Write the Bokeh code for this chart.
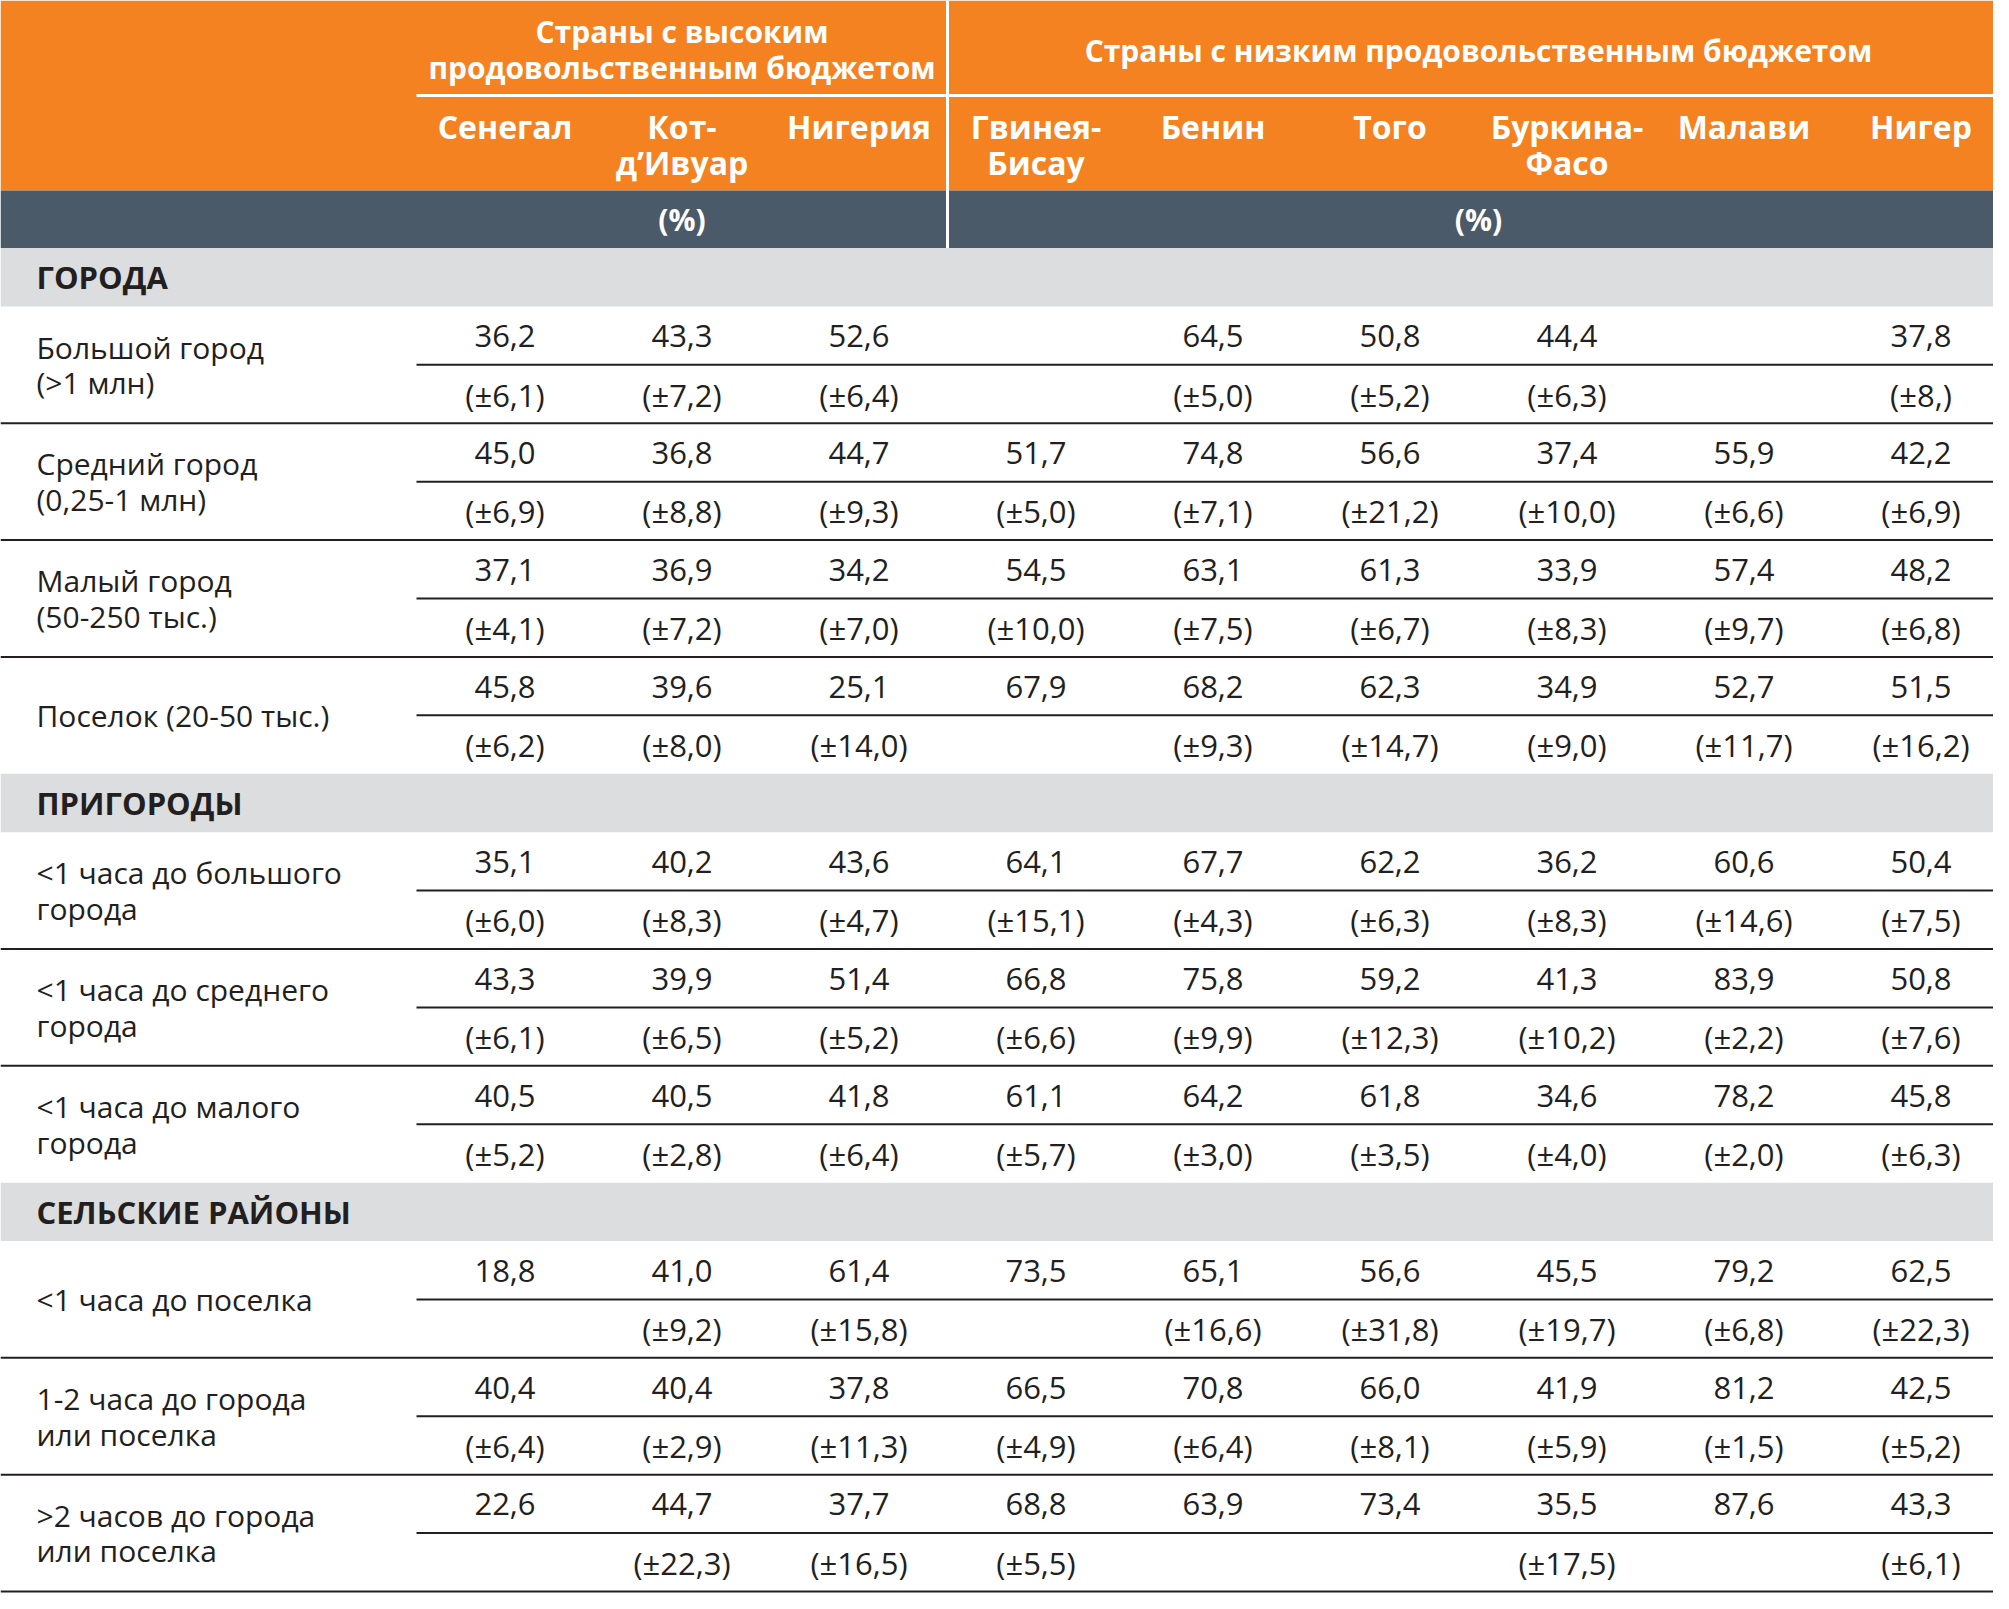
from bokeh.plotting import figure
from bokeh.models import Range1d
from bokeh.core.properties import value
from bokeh.embed import file_html
from bokeh.resources import INLINE

# ---------------- data ----------------
group_high = ["Страны с высоким", "продовольственным бюджетом"]
group_low = ["Страны с низким продовольственным бюджетом"]
unit_label = "(%)"

countries_line1 = ["Сенегал", "Кот-", "Нигерия", "Гвинея-", "Бенин", "Того", "Буркина-", "Малави", "Нигер"]
countries_line2 = ["", "д’Ивуар", "", "Бисау", "", "", "Фасо", "", ""]

sections = ["ГОРОДА", "ПРИГОРОДЫ", "СЕЛЬСКИЕ РАЙОНЫ"]
section_start_row = [0, 4, 7]

row_labels = [
    ["Большой город", "(>1 млн)"],
    ["Средний город", "(0,25-1 млн)"],
    ["Малый город", "(50-250 тыс.)"],
    ["Поселок (20-50 тыс.)"],
    ["<1 часа до большого", "города"],
    ["<1 часа до среднего", "города"],
    ["<1 часа до малого", "города"],
    ["<1 часа до поселка"],
    ["1-2 часа до города", "или поселка"],
    [">2 часов до города", "или поселка"],
]

shares = [
    ["36,2", "43,3", "52,6", "", "64,5", "50,8", "44,4", "", "37,8"],
    ["45,0", "36,8", "44,7", "51,7", "74,8", "56,6", "37,4", "55,9", "42,2"],
    ["37,1", "36,9", "34,2", "54,5", "63,1", "61,3", "33,9", "57,4", "48,2"],
    ["45,8", "39,6", "25,1", "67,9", "68,2", "62,3", "34,9", "52,7", "51,5"],
    ["35,1", "40,2", "43,6", "64,1", "67,7", "62,2", "36,2", "60,6", "50,4"],
    ["43,3", "39,9", "51,4", "66,8", "75,8", "59,2", "41,3", "83,9", "50,8"],
    ["40,5", "40,5", "41,8", "61,1", "64,2", "61,8", "34,6", "78,2", "45,8"],
    ["18,8", "41,0", "61,4", "73,5", "65,1", "56,6", "45,5", "79,2", "62,5"],
    ["40,4", "40,4", "37,8", "66,5", "70,8", "66,0", "41,9", "81,2", "42,5"],
    ["22,6", "44,7", "37,7", "68,8", "63,9", "73,4", "35,5", "87,6", "43,3"],
]

errors = [
    ["6,1", "7,2", "6,4", "", "5,0", "5,2", "6,3", "", "8,"],
    ["6,9", "8,8", "9,3", "5,0", "7,1", "21,2", "10,0", "6,6", "6,9"],
    ["4,1", "7,2", "7,0", "10,0", "7,5", "6,7", "8,3", "9,7", "6,8"],
    ["6,2", "8,0", "14,0", "", "9,3", "14,7", "9,0", "11,7", "16,2"],
    ["6,0", "8,3", "4,7", "15,1", "4,3", "6,3", "8,3", "14,6", "7,5"],
    ["6,1", "6,5", "5,2", "6,6", "9,9", "12,3", "10,2", "2,2", "7,6"],
    ["5,2", "2,8", "6,4", "5,7", "3,0", "3,5", "4,0", "2,0", "6,3"],
    ["", "9,2", "15,8", "", "16,6", "31,8", "19,7", "6,8", "22,3"],
    ["6,4", "2,9", "11,3", "4,9", "6,4", "8,1", "5,9", "1,5", "5,2"],
    ["", "22,3", "16,5", "5,5", "", "", "17,5", "", "6,1"],
]

# ---------------- layout ----------------
W, H = 2009, 1609
PW, PH = 1993, 1593
LABEL_W = 416
COL_W = 177
HEADER_H = 192
BAND_H = 58
SECTION_H = 59
ROW_H = 118
N_HIGH = 3

ORANGE = "#f58220"
SLATE = "#4a5a68"
GRAY = "#dcdddf"
INK = "#231f20"
FONT = value("Open Sans")

p = figure(width=PW, height=PH, x_range=Range1d(0, PW), y_range=Range1d(H, 0),
           output_backend="svg", toolbar_location=None, min_border=0,
           x_axis_location=None, y_axis_location=None)
p.grid.visible = False
p.outline_line_color = None
p.background_fill_color = "white"
p.border_fill_color = "white"

ncol = len(countries_line1)
col_center = [LABEL_W + COL_W * (i + 0.5) for i in range(ncol)]
split_x = LABEL_W + COL_W * N_HIGH

# header backgrounds
p.quad(left=[0], right=[W], top=[0], bottom=[HEADER_H], fill_color=ORANGE, line_color=None)
p.quad(left=[0], right=[W], top=[HEADER_H], bottom=[HEADER_H + BAND_H], fill_color=SLATE, line_color=None)
# white separators in header
p.segment(x0=[LABEL_W], y0=[96], x1=[W], y1=[96], line_color="white", line_width=3)
p.segment(x0=[split_x], y0=[0], x1=[split_x], y1=[HEADER_H + BAND_H], line_color="white", line_width=3)

high_center = (LABEL_W + split_x) / 2
low_center = (split_x + W) / 2
hdr = dict(text_align="center", text_baseline="middle", text_font=FONT,
           text_font_style="bold", text_color="white")
p.text(x=[high_center, high_center], y=[31, 68], text=group_high, text_font_size="30px", **hdr)
p.text(x=[low_center], y=[50], text=group_low, text_font_size="30px", **hdr)
p.text(x=col_center, y=[127] * ncol, text=countries_line1, text_font_size="32px", **hdr)
p.text(x=col_center, y=[164] * ncol, text=countries_line2, text_font_size="32px", **hdr)
p.text(x=[high_center, low_center], y=[HEADER_H + BAND_H / 2] * 2, text=[unit_label, unit_label],
       text_font_size="30px", **hdr)

# body
y = HEADER_H + BAND_H
sec_idx = 0
vx, vy, vt = [], [], []
lx, ly, lt = [], [], []
full_seg_y, inner_seg_y = [], []
for r in range(len(row_labels)):
    if sec_idx < len(sections) and section_start_row[sec_idx] == r:
        p.quad(left=[0], right=[W], top=[y], bottom=[y + SECTION_H], fill_color=GRAY, line_color=None)
        p.text(x=[36], y=[y + SECTION_H / 2], text=[sections[sec_idx]], text_align="left",
               text_baseline="middle", text_font=FONT, text_font_style="bold",
               text_font_size="31px", text_color=INK)
        y += SECTION_H
        sec_idx += 1
    top = y
    for c in range(ncol):
        if shares[r][c]:
            vx.append(col_center[c]); vy.append(top + 30); vt.append(shares[r][c])
        if errors[r][c]:
            vx.append(col_center[c]); vy.append(top + 89); vt.append("(±" + errors[r][c] + ")")
    lines = row_labels[r]
    n = len(lines)
    for k, t in enumerate(lines):
        lx.append(36); ly.append(top + ROW_H / 2 + (k - (n - 1) / 2) * 36); lt.append(t)
    inner_seg_y.append(top + ROW_H / 2)
    y += ROW_H
    next_is_section = sec_idx < len(sections) and section_start_row[sec_idx] == r + 1
    if not next_is_section:
        full_seg_y.append(min(y, H - 2))

p.segment(x0=[LABEL_W] * len(inner_seg_y), x1=[W] * len(inner_seg_y), y0=inner_seg_y, y1=inner_seg_y,
          line_color=INK, line_width=2)
p.segment(x0=[0] * len(full_seg_y), x1=[W] * len(full_seg_y), y0=full_seg_y, y1=full_seg_y,
          line_color=INK, line_width=2)

p.text(x=vx, y=vy, text=vt, text_align="center", text_baseline="middle", text_font=FONT,
       text_font_size="31px", text_color=INK)
p.text(x=lx, y=ly, text=lt, text_align="left", text_baseline="middle", text_font=FONT,
       text_font_size="30px", text_color=INK)

open("out.html", "w").write(file_html(p, INLINE))
